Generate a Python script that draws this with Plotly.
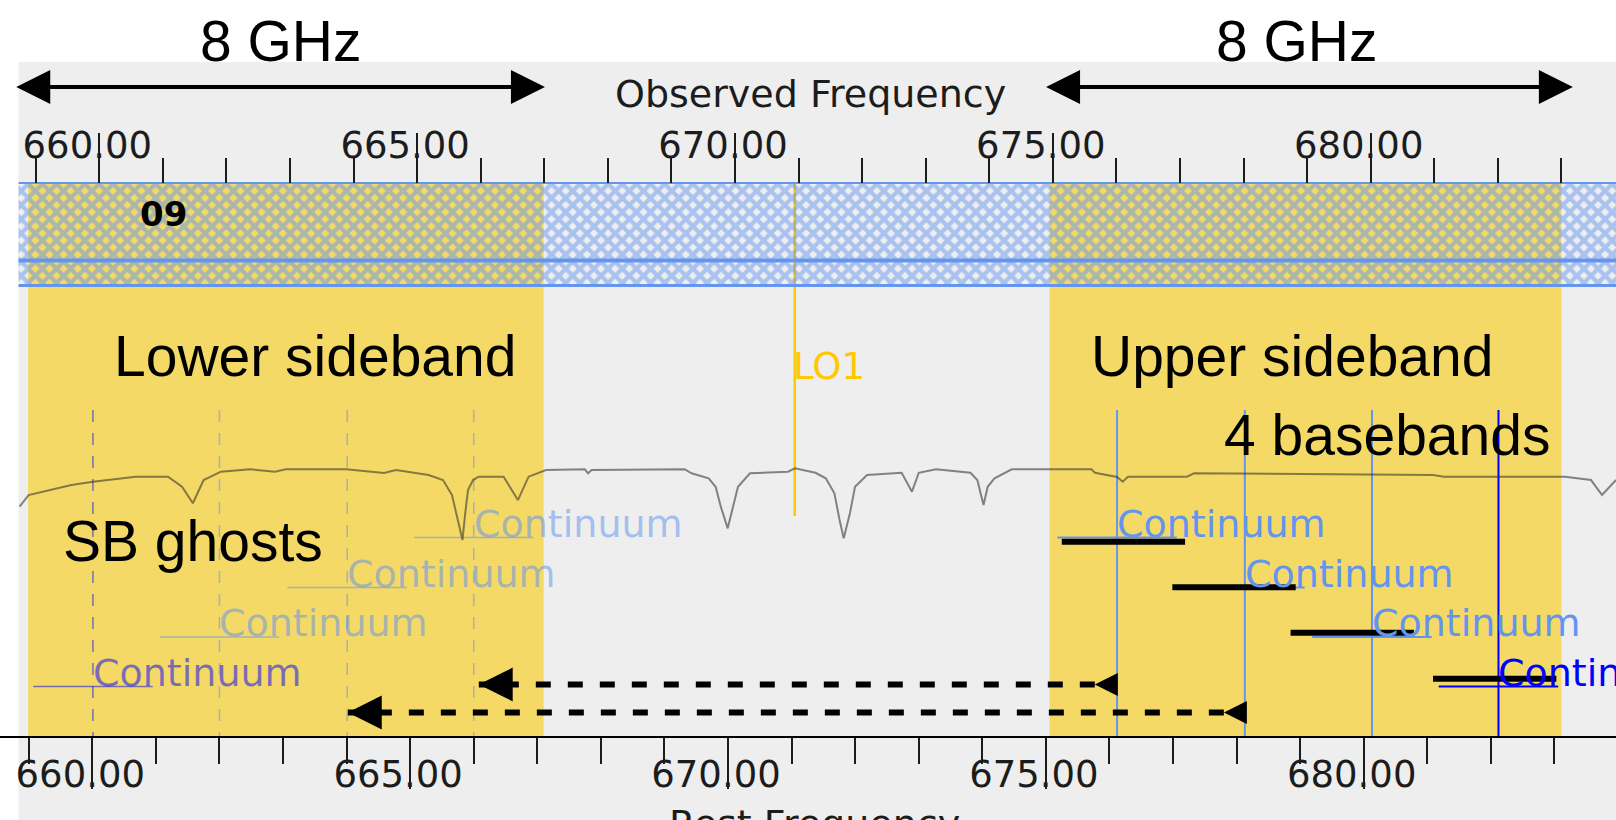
import plotly.graph_objects as go

# ---------------- data ----------------
# atmospheric / line spectrum trace (observed frequency, GHz ; relative intensity)
spec_freq = [658.746, 658.888, 659.561, 659.899, 660.573, 661.081, 661.301, 661.472, 661.641,
             661.914, 662.371, 662.764, 662.932, 663.881, 664.479, 664.667, 665.180, 665.407,
             665.548, 665.643, 665.713, 665.753, 665.800, 665.879, 665.967, 666.360, 666.585,
             666.753, 667.027, 667.637, 667.688, 667.746, 669.207, 669.316, 669.586, 669.695,
             669.777, 669.885, 669.965, 670.047, 670.236, 670.834, 670.941, 671.266, 671.428,
             671.564, 671.645, 671.710, 671.809, 671.888, 672.077, 672.621, 672.784, 672.891,
             673.162, 673.703, 673.812, 673.909, 673.975, 674.082, 674.354, 675.606, 675.663,
             676.010, 676.099, 676.182, 677.110, 677.220, 680.980, 681.153, 683.057, 683.466,
             683.639, 683.859]
spec_int = [72.4, 80.7, 87.9, 90.2, 93.8, 93.8, 86.6, 74.8, 91.4,
            97.4, 99.1, 97.4, 99.1, 99.1, 96.4, 98.6, 95.0, 91.4,
            80.7, 62.9, 48.6, 66.4, 84.3, 91.4, 93.8, 93.8, 77.1,
            93.8, 98.6, 99.1, 96.2, 98.6, 99.1, 96.2, 92.6, 86.6,
            72.4, 56.9, 72.4, 86.6, 96.2, 97.4, 99.8, 96.6, 92.6,
            81.9, 62.9, 49.8, 67.9, 86.6, 95.0, 96.6, 83.1, 96.6,
            99.1, 96.6, 91.4, 73.6, 86.6, 92.6, 99.1, 99.1, 96.6,
            93.6, 90.2, 93.8, 93.8, 96.2, 95.0, 93.8, 93.8, 91.4,
            80.7, 91.4]

lo1_freq = 670.94
lsb_range = [658.88, 666.99]
usb_range = [674.95, 683.00]
band_range = [658.73, 683.86]
band_label = "09"
baseband_freq = [676.01, 678.02, 680.02, 682.01]
ghost_freq = [665.89, 663.90, 661.89, 659.90]
cont_halfwidth = 0.94
cont_label = "Continuum"
bar_freq = [676.11, 677.85, 679.71, 681.95]
bar_halfwidth = 0.97
arrow_tail = [675.66, 677.69]
arrow_tip = [665.97, 663.91]
lsb_span = [658.67, 667.01]
usb_span = [674.87, 683.18]
rest_shift = 0.11
major_tick_step = 5
minor_tick_step = 1

# ---------------- layout constants (pixels) ----------------
W, H = 1616, 820
X660, PXG = 99.3, 63.57            # pixel of 660 GHz (observed) and px per GHz
obs_range = [660 - X660 / PXG, 660 + (W - X660) / PXG]
rest_range = [v + rest_shift for v in obs_range]
SPEC_Y0, SPEC_SCALE = 608.0, 1.4   # spectrum axis: pixel of 0 and px per unit
spec_range = [(SPEC_Y0 - H) / SPEC_SCALE, SPEC_Y0 / SPEC_SCALE]

PANEL_LEFT, PANEL_TOP = 18.5, 62
Y_BAND_TOP, Y_BAND_MID, Y_BAND_BOT = 183, 260.5, 285.5
Y_AXIS = 737
Y_LINES_TOP = 410
Y_LO_BOT = 516
Y_SB_ARROW = 87
cont_rows = [537.5, 587.5, 637, 686.5]
bar_rows = [541.7, 587.3, 632.7, 678.7]
arrow_rows = [684.5, 712.5]

GRAY_BG = "#EEEEEE"
YELLOW = "#F4D966"
HATCH = "#6496F0"
GOLD = "#FFC800"
TXT = "#1c1c1c"
bb_colors = ["#6495ED", "#6495ED", "#6495ED", "#0000FF"]
ghost_colors = ["rgba(100,149,237,0.55)", "rgba(100,149,237,0.55)",
                "rgba(100,149,237,0.55)", "rgba(0,0,255,0.5)"]

BIG = dict(family="Liberation Sans, Arial, sans-serif", size=57, color="black")
PIX = "DejaVu Sans, sans-serif"

T = dict(hoverinfo="skip", showlegend=False)


def rect(x0, x1, y0, y1):
    return [x0, x1, x1, x0, x0], [y0, y0, y1, y1, y0]


def py(ypx):
    return 1 - ypx / H


fig = go.Figure()

# sideband (yellow) regions
for lo, hi in (lsb_range, usb_range):
    xs, ys = rect(lo, hi, Y_BAND_TOP, Y_AXIS)
    fig.add_trace(go.Scatter(x=xs, y=ys, mode="none", fill="toself", fillcolor=YELLOW, **T))

# LO1 line
fig.add_trace(go.Scatter(x=[lo1_freq, lo1_freq], y=[Y_BAND_TOP, Y_LO_BOT], mode="lines",
                         line=dict(color=GOLD, width=2.5), **T))

# spectrum
fig.add_trace(go.Scatter(x=spec_freq, y=spec_int, yaxis="y2", mode="lines",
                         line=dict(color="rgba(40,40,40,0.55)", width=2), **T))

# sideband ghosts (LSB)
for f, c, yr in zip(ghost_freq, ghost_colors, cont_rows):
    fig.add_trace(go.Scatter(x=[f, f], y=[Y_LINES_TOP, Y_AXIS], mode="lines",
                             line=dict(color=c, width=1.5, dash="12px,11px"), **T))
    fig.add_trace(go.Scatter(x=[f - cont_halfwidth, f + cont_halfwidth], y=[yr, yr], mode="lines",
                             line=dict(color=c, width=1.5), **T))

# basebands (USB)
for f, c, yr in zip(baseband_freq, bb_colors, cont_rows):
    fig.add_trace(go.Scatter(x=[f, f], y=[Y_LINES_TOP, Y_AXIS], mode="lines",
                             line=dict(color=c, width=2), **T))
    fig.add_trace(go.Scatter(x=[f - cont_halfwidth, f + cont_halfwidth], y=[yr, yr], mode="lines",
                             line=dict(color=c, width=2), **T))

# hatched spectral window band
xs, ys = rect(band_range[0], band_range[1], Y_BAND_TOP, Y_BAND_BOT)
fig.add_trace(go.Scatter(x=xs, y=ys, mode="none", fill="toself", fillcolor="rgba(0,0,0,0)",
                         fillpattern=dict(shape="x", fgcolor=HATCH, bgcolor="rgba(0,0,0,0)",
                                          size=10, solidity=0.66), **T))
for yv, w in ((Y_BAND_TOP, 2), (Y_BAND_MID, 4), (Y_BAND_BOT, 3)):
    fig.add_trace(go.Scatter(x=band_range, y=[yv, yv], mode="lines",
                             line=dict(color=HATCH, width=w), **T))

# black bars
for f, yr in zip(bar_freq, bar_rows):
    fig.add_trace(go.Scatter(x=[f - bar_halfwidth, f + bar_halfwidth], y=[yr, yr], mode="lines",
                             line=dict(color="black", width=6), **T))

# dashed arrows
for tl, tp, yr in zip(arrow_tail, arrow_tip, arrow_rows):
    fig.add_trace(go.Scatter(x=[tl, tp], y=[yr, yr], mode="lines",
                             line=dict(color="black", width=6, dash="15px,17px"), **T))
    fig.add_trace(go.Scatter(x=[tl], y=[yr], mode="markers",
                             marker=dict(symbol="arrow-left", size=23, color="black"), **T))

# dummy trace so the rest-frequency axis is drawn
fig.add_trace(go.Scatter(x=[rest_range[0]], y=[0], xaxis="x2", mode="markers",
                         marker=dict(opacity=0), **T))

ann = []


def text(t, xpx, ypx, font, xanchor="left"):
    ann.append(dict(text=t, x=xpx / W, y=py(ypx), xref="paper", yref="paper", xanchor=xanchor,
                    yanchor="middle", showarrow=False, font=font))


text("8 GHz", 280.5, 41, BIG, "center")
text("8 GHz", 1296.6, 41, BIG, "center")
text("Lower sideband", 112, 356, BIG)
text("Upper sideband", 1089, 356, BIG)
text("4 basebands", 1222, 435, BIG)
text("SB ghosts", 61, 541, BIG)
text("Observed Frequency", 811, 94, dict(family=PIX, size=38, color=TXT), "center")
text("Rest Frequency", 815, 824, dict(family=PIX, size=38, color=TXT), "center")
text(band_label, 163.5, 214, dict(family=PIX, size=34, color="black", weight="bold"), "center")

ann.append(dict(text="LO1", x=lo1_freq, y=py(367), xref="x", yref="paper", xanchor="left",
                yanchor="middle", xshift=-4, showarrow=False,
                font=dict(family=PIX, size=37, color=GOLD)))

for f, c, yr in zip(ghost_freq, ghost_colors, cont_rows):
    ann.append(dict(text=cont_label, x=f, y=py(yr - 14), xref="x", yref="paper", xanchor="left",
                    yanchor="middle", xshift=-2, showarrow=False,
                    font=dict(family=PIX, size=38, color=c)))
for f, c, yr in zip(baseband_freq, bb_colors, cont_rows):
    ann.append(dict(text=cont_label, x=f, y=py(yr - 14), xref="x", yref="paper", xanchor="left",
                    yanchor="middle", xshift=-2, showarrow=False,
                    font=dict(family=PIX, size=38, color=c)))

# 8 GHz double arrows
for lo, hi in (lsb_span, usb_span):
    ann.append(dict(text="", x=hi, y=Y_SB_ARROW, ax=lo, ay=Y_SB_ARROW, xref="x", yref="y",
                    axref="x", ayref="y", showarrow=True, arrowside="end+start",
                    arrowhead=2, startarrowhead=2, arrowsize=1.7, startarrowsize=1.7,
                    arrowwidth=4, arrowcolor="black"))

# heads of dashed arrows
for tp, yr in zip(arrow_tip, arrow_rows):
    ann.append(dict(text="", x=tp, y=yr, xref="x", yref="y", ax=34, ay=0, showarrow=True,
                    arrowhead=2, arrowsize=1.13, arrowwidth=6, arrowcolor="black"))

tickfont = dict(family=PIX, size=37, color=TXT)

fig.update_layout(
    width=W, height=H, autosize=False,
    margin=dict(l=0, r=0, t=0, b=0, pad=0),
    paper_bgcolor="white", plot_bgcolor="rgba(0,0,0,0)",
    showlegend=False, hovermode=False,
    shapes=[dict(type="rect", xref="paper", yref="y", x0=PANEL_LEFT / W, x1=1,
                 y0=PANEL_TOP, y1=H, fillcolor=GRAY_BG, line=dict(width=0), layer="below")],
    annotations=ann,
    xaxis=dict(range=obs_range, domain=[0, 1], side="top", anchor="free",
               position=1 - Y_BAND_TOP / H, showgrid=False, zeroline=False, showline=False,
               ticks="outside", ticklen=50, tickwidth=2, tickcolor=TXT,
               tick0=660, dtick=major_tick_step, tickformat=".2f", tickfont=tickfont,
               ticklabelshift=-12, ticklabelstandoff=-40,
               minor=dict(ticks="outside", tick0=660, dtick=minor_tick_step, ticklen=25,
                          tickwidth=2, tickcolor=TXT, showgrid=False),
               fixedrange=True),
    xaxis2=dict(range=rest_range, domain=[0, 1], overlaying="x", side="bottom", anchor="free",
                position=1 - Y_AXIS / H, showgrid=False, zeroline=False,
                showline=True, linecolor="black", linewidth=2,
                ticks="outside", ticklen=51, tickwidth=2, tickcolor=TXT,
                tick0=660, dtick=major_tick_step, tickformat=".2f", tickfont=tickfont,
                ticklabelshift=-12, ticklabelstandoff=-46,
                minor=dict(ticks="outside", tick0=660, dtick=minor_tick_step, ticklen=26,
                           tickwidth=2, tickcolor=TXT, showgrid=False),
                fixedrange=True),
    yaxis=dict(range=[H, 0], domain=[0, 1], visible=False, fixedrange=True),
    yaxis2=dict(range=spec_range, overlaying="y", visible=False, fixedrange=True),
)

fig.write_html("out.html", include_plotlyjs=True, config={"displayModeBar": False},
               post_script="document.body.style.margin='0';document.body.style.overflow='hidden';")
